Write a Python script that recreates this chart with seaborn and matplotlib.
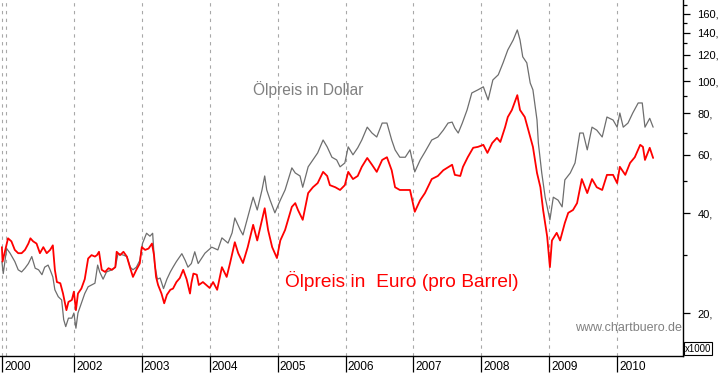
import numpy as np
import pandas as pd
import matplotlib
matplotlib.use("Agg")
import matplotlib.pyplot as plt
import matplotlib.ticker as mticker
import matplotlib.transforms as mtransforms
import seaborn as sns

# ---- data ----
usd_t = [2000.94, 2000.96, 2001.01, 2001.06, 2001.13, 2001.18, 2001.23, 2001.28, 2001.33, 2001.38,
         2001.43, 2001.48, 2001.53, 2001.57, 2001.62, 2001.65, 2001.69, 2001.72, 2001.77, 2001.82,
         2001.85, 2001.88, 2001.92, 2001.97, 2002.00, 2002.03, 2002.06, 2002.11, 2002.16, 2002.21,
         2002.26, 2002.31, 2002.35, 2002.38, 2002.43, 2002.48, 2002.56, 2002.61, 2002.65, 2002.73,
         2002.78, 2002.83, 2002.87, 2002.92, 2002.97, 2003.01, 2003.07, 2003.12, 2003.16, 2003.19,
         2003.23, 2003.27, 2003.32, 2003.37, 2003.42, 2003.46, 2003.51, 2003.59, 2003.64, 2003.68,
         2003.73, 2003.78, 2003.83, 2003.93, 2004.03, 2004.12, 2004.18, 2004.27, 2004.33, 2004.37,
         2004.45, 2004.49, 2004.56, 2004.64, 2004.70, 2004.77, 2004.81, 2004.84, 2004.89, 2004.96,
         2005.04, 2005.11, 2005.21, 2005.26, 2005.33, 2005.37, 2005.45, 2005.52, 2005.59, 2005.67,
         2005.73, 2005.80, 2005.87, 2005.92, 2005.99, 2006.04, 2006.11, 2006.18, 2006.24, 2006.32,
         2006.39, 2006.46, 2006.54, 2006.61, 2006.68, 2006.73, 2006.80, 2006.88, 2006.95, 2007.02,
         2007.10, 2007.17, 2007.27, 2007.36, 2007.44, 2007.51, 2007.57, 2007.61, 2007.66, 2007.72,
         2007.79, 2007.86, 2007.95, 2008.03, 2008.10, 2008.17, 2008.25, 2008.32, 2008.39, 2008.47,
         2008.53, 2008.57, 2008.61, 2008.67, 2008.72, 2008.76, 2008.82, 2008.84, 2008.89, 2008.94,
         2009.01, 2009.06, 2009.13, 2009.19, 2009.23, 2009.31, 2009.38, 2009.45, 2009.50, 2009.56,
         2009.63, 2009.70, 2009.78, 2009.85, 2009.94, 2010.00, 2010.04, 2010.09, 2010.16, 2010.23,
         2010.31, 2010.37, 2010.41, 2010.48, 2010.53]
usd_v = [28.6, 26.3, 31.3, 30.3, 28.6, 27.0, 26.6, 27.3, 28.2, 29.6,
         27.3, 27.0, 26.1, 27.5, 27.9, 27.0, 25.7, 23.5, 22.4, 21.9,
         19.1, 18.2, 19.3, 19.3, 20.0, 18.0, 20.0, 21.4, 22.9, 24.0,
         24.3, 24.6, 27.9, 26.6, 25.3, 26.6, 27.0, 27.5, 30.2, 29.9,
         29.6, 27.5, 27.0, 27.5, 28.8, 32.4, 34.8, 34.1, 34.8, 27.9,
         25.3, 25.5, 23.7, 25.3, 26.6, 27.5, 28.6, 30.2, 28.8, 27.5,
         28.2, 30.6, 28.2, 30.3, 31.6, 31.0, 33.7, 32.5, 34.9, 38.7,
         35.6, 34.4, 38.9, 44.7, 40.9, 47.0, 51.8, 47.0, 43.8, 40.1,
         43.8, 47.0, 54.8, 52.9, 51.8, 47.9, 55.2, 57.9, 60.8, 66.5,
         63.4, 59.0, 57.9, 55.2, 56.7, 63.4, 60.0, 63.0, 66.5, 72.7,
         69.8, 67.9, 74.8, 74.8, 66.5, 62.1, 59.0, 59.0, 62.1, 53.3,
         57.9, 61.2, 66.5, 67.9, 71.2, 74.8, 75.3, 72.2, 69.8, 74.8,
         81.9, 92.2, 94.2, 96.2, 87.8, 100.9, 104.6, 113.6, 124.3, 133.2,
         142.8, 133.2, 118.5, 113.6, 98.8, 94.2, 76.4, 65.1, 52.9, 44.7,
         38.2, 44.7, 43.8, 41.8, 50.4, 52.9, 56.7, 69.8, 69.8, 62.1,
         72.7, 71.2, 67.9, 78.0, 76.4, 72.7, 80.2, 72.7, 74.8, 80.2,
         86.0, 86.0, 72.7, 77.3, 72.7]

eur_t = [2000.94, 2000.95, 2000.99, 2001.03, 2001.08, 2001.13, 2001.18, 2001.23, 2001.28, 2001.33,
         2001.36, 2001.40, 2001.45, 2001.50, 2001.55, 2001.60, 2001.65, 2001.69, 2001.72, 2001.75,
         2001.80, 2001.84, 2001.87, 2001.89, 2001.92, 2001.97, 2002.00, 2002.03, 2002.06, 2002.11,
         2002.16, 2002.21, 2002.26, 2002.31, 2002.34, 2002.37, 2002.41, 2002.46, 2002.51, 2002.56,
         2002.61, 2002.63, 2002.68, 2002.73, 2002.78, 2002.83, 2002.87, 2002.92, 2002.97, 2003.00,
         2003.05, 2003.10, 2003.15, 2003.18, 2003.21, 2003.24, 2003.29, 2003.33, 2003.37, 2003.42,
         2003.46, 2003.51, 2003.56, 2003.61, 2003.66, 2003.71, 2003.73, 2003.76, 2003.81, 2003.84,
         2003.90, 2004.00, 2004.05, 2004.11, 2004.18, 2004.25, 2004.30, 2004.37, 2004.42, 2004.49,
         2004.56, 2004.64, 2004.70, 2004.77, 2004.81, 2004.86, 2004.92, 2004.99, 2005.04, 2005.11,
         2005.21, 2005.26, 2005.30, 2005.37, 2005.45, 2005.52, 2005.59, 2005.67, 2005.73, 2005.77,
         2005.85, 2005.92, 2005.99, 2006.04, 2006.11, 2006.18, 2006.24, 2006.32, 2006.39, 2006.46,
         2006.54, 2006.61, 2006.68, 2006.73, 2006.80, 2006.88, 2006.95, 2007.02, 2007.10, 2007.17,
         2007.27, 2007.36, 2007.44, 2007.57, 2007.61, 2007.69, 2007.73, 2007.80, 2007.88, 2007.95,
         2008.03, 2008.09, 2008.16, 2008.23, 2008.28, 2008.35, 2008.39, 2008.45, 2008.53, 2008.57,
         2008.64, 2008.72, 2008.76, 2008.82, 2008.87, 2008.91, 2008.97, 2009.01, 2009.04, 2009.11,
         2009.16, 2009.23, 2009.28, 2009.35, 2009.41, 2009.48, 2009.56, 2009.63, 2009.70, 2009.78,
         2009.85, 2009.94, 2010.00, 2010.04, 2010.12, 2010.19, 2010.26, 2010.34, 2010.38, 2010.41,
         2010.48, 2010.53]
eur_v = [31.6, 28.6, 31.0, 33.6, 32.9, 31.0, 30.3, 30.3, 31.0, 32.4,
         33.6, 32.9, 32.4, 30.3, 31.6, 30.3, 31.0, 32.0, 27.0, 24.8,
         24.6, 22.9, 21.4, 20.4, 21.6, 21.9, 23.2, 20.4, 22.9, 23.7,
         25.3, 29.2, 29.9, 29.6, 29.9, 30.6, 27.0, 26.6, 27.3, 27.0,
         27.5, 30.6, 29.9, 30.6, 29.6, 27.3, 25.7, 27.0, 28.2, 31.6,
         31.0, 31.3, 32.4, 29.9, 25.7, 24.3, 22.9, 21.4, 22.7, 23.5,
         23.7, 24.8, 25.5, 27.0, 25.3, 22.9, 24.6, 26.3, 26.1, 24.3,
         24.8, 23.8, 24.8, 23.5, 27.5, 25.7, 28.3, 32.7, 30.3, 28.3,
         31.6, 36.9, 33.1, 38.2, 41.4, 35.6, 31.6, 29.3, 33.1, 35.6,
         41.8, 42.9, 40.9, 38.2, 46.0, 47.9, 49.3, 53.3, 51.8, 48.6,
         47.9, 47.0, 48.6, 53.3, 50.7, 51.8, 55.2, 58.7, 56.0, 53.3,
         57.9, 59.0, 53.9, 47.9, 47.0, 47.0, 47.0, 40.4, 43.8, 46.0,
         50.7, 51.8, 53.9, 56.0, 52.2, 51.8, 55.2, 59.0, 63.0, 63.4,
         64.3, 60.8, 65.1, 67.5, 65.6, 72.7, 78.0, 81.9, 90.8, 81.9,
         78.0, 67.9, 63.4, 52.9, 47.9, 40.9, 34.0, 27.5, 33.1, 34.9,
         33.1, 37.4, 40.1, 40.9, 42.9, 50.7, 46.0, 50.7, 47.9, 47.0,
         52.2, 52.2, 49.3, 55.2, 52.2, 56.7, 59.0, 64.3, 63.4, 57.9,
         63.0, 58.7]

year_gridlines = [2000.94, 2001, 2002, 2003, 2004, 2005, 2006, 2007, 2008, 2009, 2010]
year_tick_pos = [2000.94, 2002, 2003, 2004, 2005, 2006, 2007, 2008, 2009, 2010]
year_tick_labels = ["2000", "2002", "2003", "2004", "2005", "2006", "2007", "2008", "2009", "2010"]
price_ticks = [20, 40, 60, 80, 100, 120, 140, 160]
price_tick_labels = ["20,", "40,", "60,", "80,", "100,", "120,", "140,", "160,"]
price_minor = [30, 50, 70, 90, 110, 130, 150, 170]

df_usd = pd.DataFrame({"t": usd_t, "v": usd_v})
df_eur = pd.DataFrame({"t": eur_t, "v": eur_v})

sns.set_theme(style="white")
plt.rcParams["font.family"] = ["Liberation Sans", "DejaVu Sans"]

W, H = 723, 373
fig = plt.figure(figsize=(W / 100, H / 100), dpi=100)
ax = fig.add_axes([0, 17 / H, 683 / W, 356 / H])
ax.set_facecolor("white")

for g in year_gridlines:
    ax.axvline(g, color="#a8a8a8", lw=0.8, ls=(0, (3, 4)), zorder=0)

sns.lineplot(data=df_usd, x="t", y="v", ax=ax, color="#6e6e6e", lw=0.9,
             estimator=None, sort=False, zorder=3)
sns.lineplot(data=df_eur, x="t", y="v", ax=ax, color="#ff0000", lw=1.3,
             estimator=None, sort=False, zorder=4)

ax.set_yscale("log")
ax.set_ylim(14.84, 175.8)
ax.set_xlim(2000.912, 2010.97)
ax.set_xlabel("")
ax.set_ylabel("")

# spines
for s in ["left", "top"]:
    ax.spines[s].set_visible(False)
for s in ["right", "bottom"]:
    ax.spines[s].set_visible(True)
    ax.spines[s].set_color("black")
    ax.spines[s].set_linewidth(1.0)

# y axis on right
ax.yaxis.tick_right()
ax.yaxis.set_major_locator(mticker.FixedLocator(price_ticks))
ax.yaxis.set_major_formatter(mticker.FixedFormatter(price_tick_labels))
ax.yaxis.set_minor_locator(mticker.FixedLocator(price_minor))
ax.yaxis.set_minor_formatter(mticker.NullFormatter())
ax.tick_params(axis="y", which="major", direction="out", length=5, width=0.9,
               color="black", pad=5.5, labelsize=8.0, labelcolor="black",
               left=False, right=True)
ax.tick_params(axis="y", which="minor", direction="out", length=2.6, width=0.9,
               color="black", left=False, right=True)

# x axis
ax.set_xticks(year_tick_pos)
ax.set_xticklabels(year_tick_labels)
ax.xaxis.set_minor_locator(mticker.NullLocator())
ax.tick_params(axis="x", which="major", direction="out", length=11.5, width=0.9,
               color="black", pad=-8.2, labelsize=8.6, labelcolor="black",
               bottom=True, top=False)
offset = mtransforms.ScaledTranslation(1.5 / 72, 0, fig.dpi_scale_trans)
for lab in ax.get_xticklabels():
    lab.set_horizontalalignment("left")
    lab.set_verticalalignment("top")
    lab.set_transform(lab.get_transform() + offset)

# annotations
fig.text(253 / W, 1 - 95 / H, "Ölpreis in Dollar", color="#808080",
         fontsize=11.2, ha="left", va="baseline")
fig.text(285 / W, 1 - 287 / H, "Ölpreis in  Euro (pro Barrel)", color="#ff0000",
         fontsize=13.8, ha="left", va="baseline")
fig.text(682 / W, 1 - 331 / H, "www.chartbuero.de", color="#808080",
         fontsize=9.0, ha="right", va="baseline")
fig.text(698 / W, 1 - 348.5 / H, "x1000", color="black", fontsize=7.0,
         ha="center", va="center",
         bbox=dict(boxstyle="square,pad=0.12", fc="white", ec="black", lw=0.8))

fig.savefig("out.png", dpi=100, facecolor="white")
